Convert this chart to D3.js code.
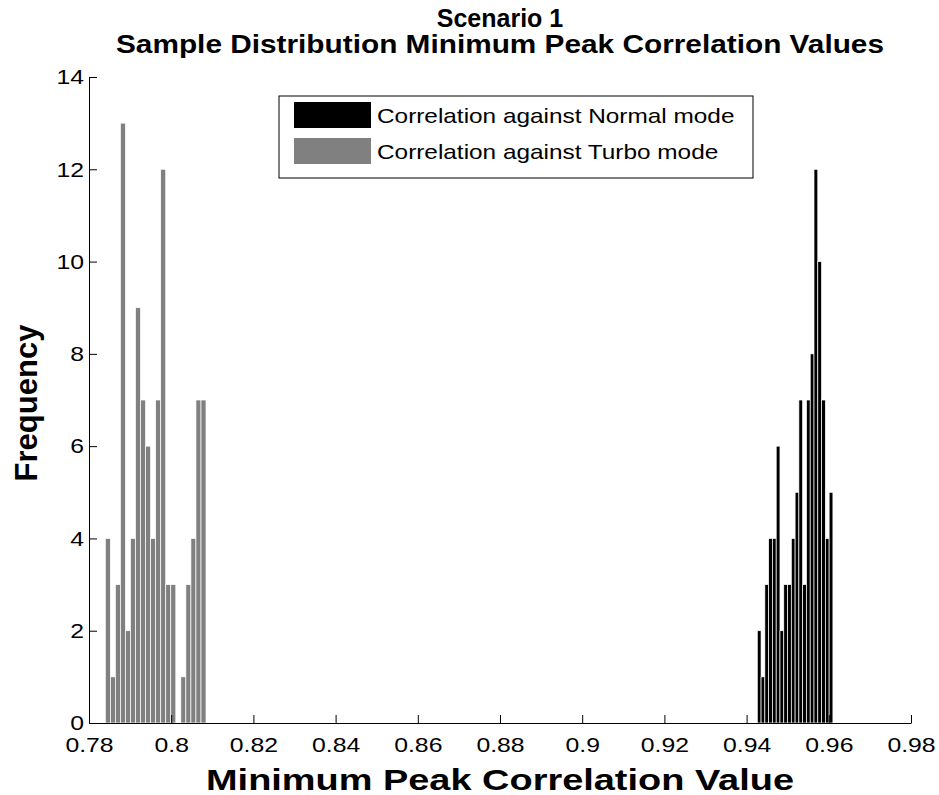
<!DOCTYPE html>
<html>
<head>
<meta charset="utf-8">
<script src="https://cdn.jsdelivr.net/npm/d3@7"></script>
<style>
  body { margin: 0; background: #fff; }
  svg text { font-family: "Liberation Sans", Arial, Helvetica, sans-serif; }
</style>
</head>
<body>
<svg id="chart" width="939" height="795"></svg>
<script>
// histogram counts, 20 bins each
const turboCounts = [4, 1, 3, 13, 2, 4, 9, 7, 6, 4, 7, 12, 3, 3, 0, 1, 3, 4, 7, 7];
const normalCounts = [2, 1, 3, 4, 4, 6, 2, 3, 3, 4, 5, 7, 3, 7, 8, 12, 10, 7, 4, 5];
// bin range [min, max] of each sample
const turboRange = [0.78397, 0.80847];
const normalRange = [0.9426, 0.9610];
const xTicks = [0.78, 0.8, 0.82, 0.84, 0.86, 0.88, 0.9, 0.92, 0.94, 0.96, 0.98];
const yTicks = [0, 2, 4, 6, 8, 10, 12, 14];
const legendLabels = ["Correlation against Normal mode", "Correlation against Turbo mode"];

const svg = d3.select("#chart");
const plotLeft = 89, plotRight = 911, plotTop = 77, plotBottom = 723;
const stretchX = 1.18; // the original glyphs are a bit wider than Liberation Sans

const x = d3.scaleLinear().domain([0.78, 0.98]).range([plotLeft, plotRight]);
const y = d3.scaleLinear().domain([0, 14]).range([plotBottom, plotTop]);

// widen horizontal text to the look of the original
function stretch(sel, k = stretchX) {
    sel.each(function () {
        const w = this.getComputedTextLength();
        d3.select(this).attr("textLength", w * k).attr("lengthAdjust", "spacingAndGlyphs");
    });
}

// turn counts into bins like MATLAB hist
function toBins(counts, range) {
    const w = (range[1] - range[0]) / counts.length;
    return counts.map((c, i) => ({ x0: range[0] + i * w, x1: range[0] + (i + 1) * w, count: c }));
}

function drawBars(bins, color) {
    svg.append("g").selectAll("rect")
        .data(bins.filter(d => d.count > 0))
        .join("rect")
        .attr("x", d => x(d.x0))
        .attr("y", d => y(d.count))
        .attr("width", d => x(d.x1) - x(d.x0))
        .attr("height", d => y(0) - y(d.count))
        .attr("fill", color)
        .attr("stroke", "#fff")
        .attr("stroke-width", 0.7);
}

drawBars(toBins(normalCounts, normalRange), "#000");
drawBars(toBins(turboCounts, turboRange), "#808080");

// axes, ticks pointing inward, no box
const xAxis = svg.append("g").attr("transform", `translate(0,${plotBottom})`)
    .call(d3.axisBottom(x).tickValues(xTicks).tickSizeInner(-8).tickSizeOuter(0).tickPadding(14)
        .tickFormat(d3.format("~g")));
const yAxis = svg.append("g").attr("transform", `translate(${plotLeft},0)`)
    .call(d3.axisLeft(y).tickValues(yTicks).tickSizeInner(-8).tickSizeOuter(0).tickPadding(5));

[xAxis, yAxis].forEach(g => {
    g.select(".domain").attr("stroke", "#000").attr("stroke-width", 1);
    g.selectAll(".tick line").attr("stroke", "#000");
    g.selectAll(".tick text").attr("fill", "#000").attr("font-size", 21).call(stretch);
});

// titles
svg.append("text").attr("x", 500).attr("y", 27).attr("text-anchor", "middle")
    .attr("font-size", 25).attr("font-weight", "bold").text("Scenario 1");
svg.append("text").attr("x", 500).attr("y", 53).attr("text-anchor", "middle")
    .attr("font-size", 25).attr("font-weight", "bold")
    .text("Sample Distribution Minimum Peak Correlation Values")
    .attr("textLength", 768).attr("lengthAdjust", "spacingAndGlyphs");
svg.append("text").attr("x", 500).attr("y", 790).attr("text-anchor", "middle")
    .attr("font-size", 30).attr("font-weight", "bold").text("Minimum Peak Correlation Value")
    .attr("textLength", 588).attr("lengthAdjust", "spacingAndGlyphs");
svg.append("text").attr("transform", "translate(37,403) rotate(-90)").attr("text-anchor", "middle")
    .attr("font-size", 31).attr("font-weight", "bold").text("Frequency");

// legend
const lg = svg.append("g").attr("transform", "translate(279,96)");
lg.append("rect").attr("width", 474).attr("height", 82)
    .attr("fill", "#fff").attr("stroke", "#000");
legendLabels.forEach((label, i) => {
    lg.append("rect").attr("x", 15).attr("y", 6 + i * 36).attr("width", 77).attr("height", 26)
        .attr("fill", i === 0 ? "#000" : "#808080");
    lg.append("text").attr("x", 98).attr("y", 27 + i * 36)
        .attr("font-size", 21).text(label).call(stretch, 1.16);
});
</script>
</body>
</html>
